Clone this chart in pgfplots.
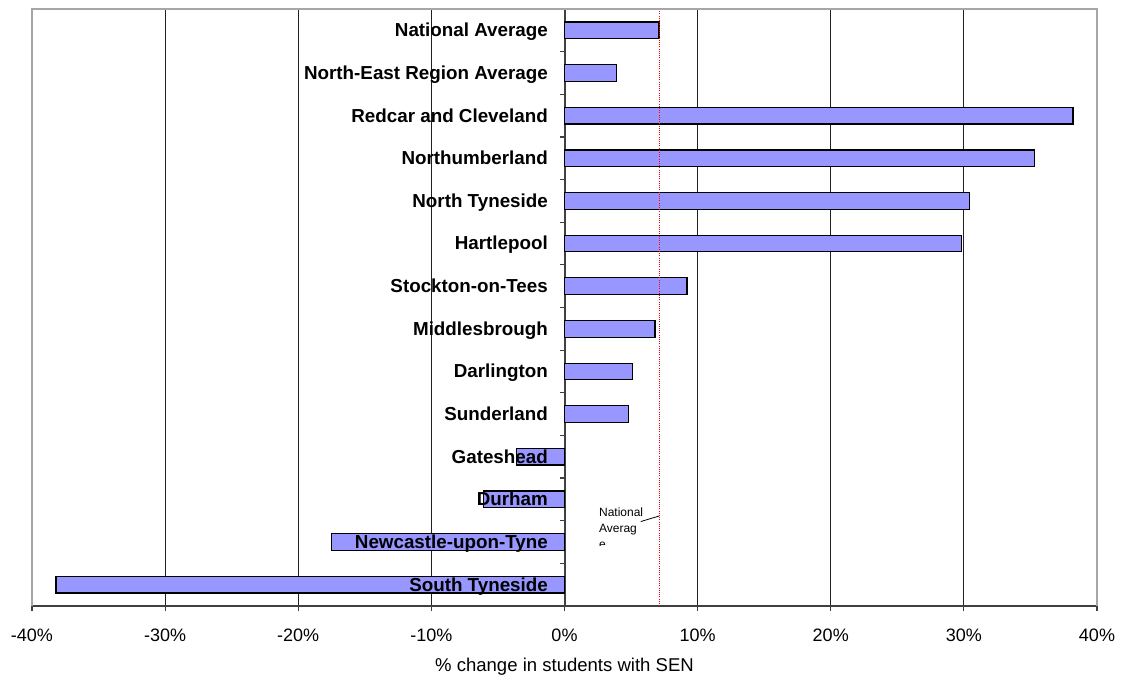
\documentclass[border=0pt]{standalone}
\usepackage{pgfplots}
\pgfplotsset{compat=1.18}
\usepackage{pgfplotstable}
\usepackage{fontspec}
\setmainfont{Liberation Sans}

\definecolor{barfill}{HTML}{9797FF}
\definecolor{framegray}{HTML}{A6A6A6}
\definecolor{axisdark}{HTML}{404040}
\definecolor{griddark}{HTML}{202020}

% % change in students with SEN, by local authority (row 0 is drawn at the top)
\pgfplotstableread[col sep=comma]{
idx,change,name
0,7.1,National Average
1,3.9,North-East Region Average
2,38.2,Redcar and Cleveland
3,35.3,Northumberland
4,30.4,North Tyneside
5,29.8,Hartlepool
6,9.2,Stockton-on-Tees
7,6.8,Middlesbrough
8,5.1,Darlington
9,4.8,Sunderland
10,-3.6,Gateshead
11,-6.1,Durham
12,-17.5,Newcastle-upon-Tyne
13,-38.2,South Tyneside
}\sendata

\begin{document}
\begin{tikzpicture}
\useasboundingbox (-24pt,-55.5pt) rectangle (819.75pt,454.5pt);
\begin{axis}[
  at={(0,0)}, anchor=south west,
  scale only axis, width=798.75pt, height=447.75pt,
  clip=false,
  xmin=-40, xmax=40, ymin=-0.5, ymax=13.5, y dir=reverse,
  axis x line*=bottom, axis y line*=middle,
  x axis line style={axisdark, line width=1.5pt},
  y axis line style={axisdark, line width=1.5pt},
  xtick={-40,-30,-20,-10,0,10,20,30,40},
  xticklabels={-40\%,-30\%,-20\%,-10\%,0\%,10\%,20\%,30\%,40\%},
  xticklabel style={anchor=base, yshift=-23.2pt, font=\fontsize{13.5}{16}\selectfont},
  ytick={-0.5,0.5,...,13.5},
  yticklabel={\relax},
  xtick align=outside,
  ytick align=center,
  major tick length=3.75pt,
  x tick style={axisdark, line width=0.9pt},
  y tick style={axisdark, line width=0.9pt, xshift=-1.875pt},
  xmajorgrids,
  grid style={griddark, line width=0.75pt},
  xlabel={\% change in students with SEN},
  xlabel style={at={(axis description cs:0.5,0)}, anchor=base, yshift=-49pt,
    font=\fontsize{13.9}{16}\selectfont},
]
  % bars
  \addplot[xbar, bar width=12.5pt, bar shift=0pt, fill=barfill, draw=black,
    line width=0.9pt] table[x=change, y=idx] {\sendata};
  % national average reference line
  \addplot[red, line width=0.75pt, dash pattern=on 0.75pt off 0.9pt]
    coordinates {(7.1,-0.5) (7.1,13.5)};
  % category names, right-aligned against the zero line
  \addplot[only marks, mark=none, nodes near coords, point meta=explicit symbolic,
    nodes near coords style={anchor=base east, inner sep=0pt, xshift=-12.3pt,
      yshift=-4.8pt, text=black, font=\bfseries\fontsize{14.1}{16}\selectfont}]
    table[x expr=0, y=idx, meta=name] {\sendata};
  % grey frame on the left, top and right
  \draw[framegray, line width=1.5pt] (rel axis cs:0,0) -- (rel axis cs:0,1)
    -- (rel axis cs:1,1) -- (rel axis cs:1,0);
  \coordinate (clipA) at (axis cs:2.0,11.0);
  \coordinate (clipB) at (axis cs:7.0,12.08);
  \coordinate (noteT) at (axis cs:2.58,11.2);
  \draw[black, line width=0.6pt] (axis cs:5.73,11.52) -- (axis cs:7.1,11.39);
\end{axis}
\begin{scope}
  \clip (clipA) rectangle (clipB);
  \node[anchor=north west, align=left, inner sep=0pt,
    font=\fontsize{9}{12}\selectfont] at (noteT) {National\\Averag\\e};
\end{scope}
\end{tikzpicture}
\end{document}
